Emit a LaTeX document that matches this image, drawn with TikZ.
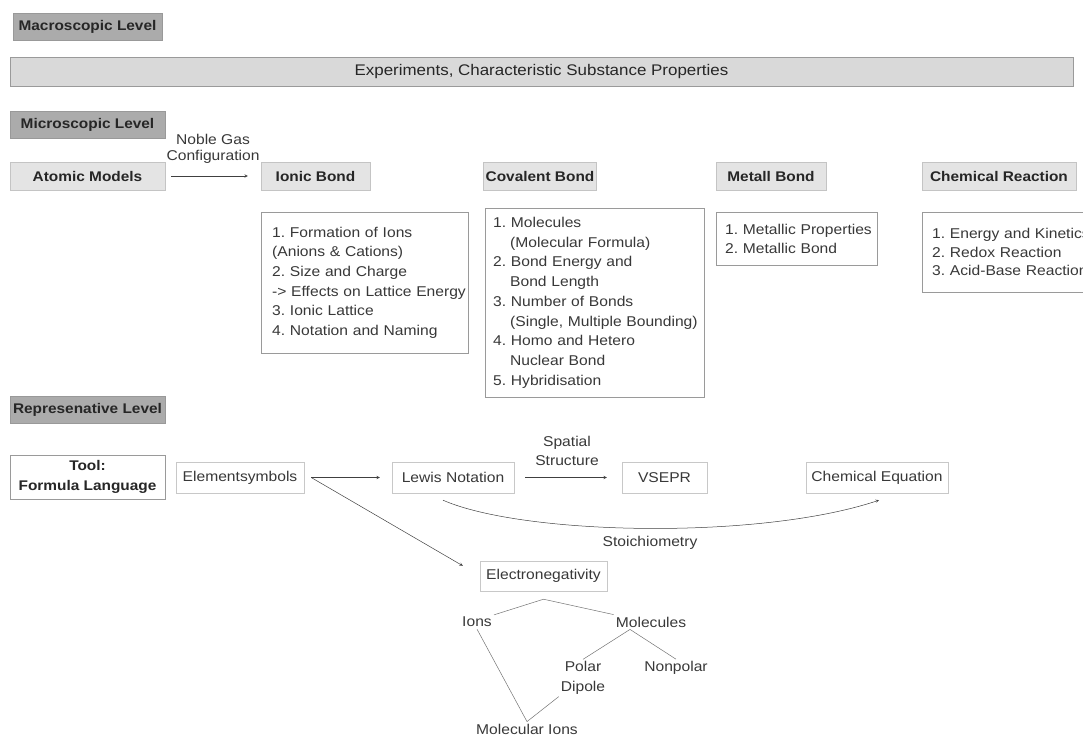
\documentclass[tikz,border=0pt]{standalone}
\usepackage{fontspec}
\setmainfont[FakeStretch=1.1]{Liberation Sans}
\frenchspacing

\definecolor{levelfill}{HTML}{ABABAB}
\definecolor{levelline}{HTML}{999999}
\definecolor{topicfill}{HTML}{E4E4E4}
\definecolor{topicline}{HTML}{C4C4C4}
\definecolor{listline}{HTML}{9A9A9A}
\definecolor{repline}{HTML}{C8C8C8}
\definecolor{textgray}{HTML}{383838}

\begin{document}
\begin{tikzpicture}[x=1pt, y=-1pt]
		\tikzset{
			every node/.style={
				text=textgray,
				align=center,
				inner sep=2pt,
				font=\fontsize{14.2}{19.7}\selectfont
			},
			level/.style={
				rectangle,
				draw=levelline,
				fill=levelfill,
				text=black!85,
				minimum width=155pt,
				minimum height=27pt,
				font=\fontsize{14}{19.7}\selectfont\bfseries
			},
			topic/.style={
				rectangle,
				draw=topicline,
				fill=topicfill,
				text=black!85,
				minimum height=28pt,
				font=\fontsize{14}{19.7}\selectfont\bfseries
			},
			list/.style={
				rectangle,
				draw=listline,
				fill=white,
				align=left,
				anchor=north west,
				inner ysep=0pt
			},
			rep/.style={
				rectangle,
				draw=repline,
				fill=white,
				minimum height=31pt
			},
			line/.style={
				->,
				>=stealth,
				draw=black!75,
				line width=0.5pt
			},
			branch/.style={
				draw=black!55,
				line width=0.5pt
			}
		}

		\path[use as bounding box, clip] (0, 0) rectangle (1083, 736);

		% macroscopic level
		\node[level, minimum width=149pt] (macro) at (87.5, 26.5)
			{Macroscopic Level};
		\node[topic, draw=listline, fill=topicfill!95!black, minimum width=1063pt,
			minimum height=29pt, font=\fontsize{15.4}{19.7}\selectfont] (exper) at (541.5, 71.5)
			{Experiments, Characteristic Substance Properties};

		% microscopic level
		\node[level] (micro) at (87.5, 124.5)
			{Microscopic Level};
		\node[topic, minimum width=155pt] (atomic) at (87.5, 176)
			{Atomic Models};
		\node[topic, minimum width=109pt] (ionic) at (315.5, 176)
			{Ionic Bond};
		\node[topic, minimum width=112pt] (covalent) at (540, 176)
			{Covalent Bond};
		\node[topic, minimum width=110pt] (metall) at (771, 176)
			{Metall Bond};
		\node[topic, minimum width=154pt] (reaction) at (999, 176)
			{Chemical Reaction};

		\node[font=\fontsize{14.2}{16}\selectfont] (noble) at (213, 149)
			{Noble Gas\\Configuration};

		\node[list, inner xsep=11pt, text width=185pt, minimum height=141pt] (ioniclist) at (261, 212)
			{1. Formation of Ions\\(Anions \& Cations)\\2. Size and Charge\\\mbox{-> Effects on Lattice Energy}\\3. Ionic Lattice\\4. Notation and Naming};
		\node[list, inner xsep=8pt, text width=203pt, minimum height=189pt] (covlist) at (485, 208)
			{1. Molecules\\\hspace*{17pt}(Molecular Formula)\\2. Bond Energy and\\\hspace*{17pt}Bond Length\\3. Number of Bonds\\\mbox{\hspace*{17pt}(Single, Multiple Bounding)}\\4. Homo and Hetero\\\hspace*{17pt}Nuclear Bond\\5. Hybridisation};
		\node[list, inner xsep=9pt, text width=143pt, minimum height=53pt,
			font=\fontsize{14.2}{19}\selectfont] (metlist) at (716, 212)
			{\mbox{1. Metallic Properties}\\2. Metallic Bond};
		\node[list, inner xsep=10pt, text width=180pt, minimum height=80pt,
			font=\fontsize{14.2}{18.6}\selectfont] (reactlist) at (922, 212)
			{1. Energy and Kinetics\\2. Redox Reaction\\3. Acid-Base Reaction};

		% representative level
		\node[level] (represent) at (87.5, 409.5)
			{Represenative Level};
		\node[rep, draw=listline, minimum width=155pt, minimum height=44pt,
			text=black!85, font=\fontsize{14}{20}\selectfont\bfseries] (tool) at (87.5, 477)
			{Tool:\\Formula Language};
		\node[rep, minimum width=128pt] (elem) at (240, 477.5)
			{Elementsymbols};
		\node[rep, minimum width=122pt] (lewis) at (453, 477.5)
			{Lewis Notation};
		\node[rep, minimum width=85pt] (vsepr) at (664.5, 477.5)
			{VSEPR};
		\node[rep, minimum width=142pt] (chemeq) at (877, 477.5)
			{Chemical Equation};
		\node[rep, minimum width=127pt, minimum height=30pt] (eneg) at (543.5, 576)
			{Electronegativity};

		\node (spatial) at (567, 451)
			{Spatial\\Structure};
		\node (stoich) at (650, 543)
			{Stoichiometry};

		\node (ions) at (477, 622)
			{Ions};
		\node (mol) at (651, 622)
			{Molecules};
		\node (polar) at (583, 678)
			{Polar\\Dipole};
		\node (nonpolar) at (676, 668)
			{Nonpolar};
		\node (molions) at (527, 729)
			{Molecular Ions};

		\draw[line, shorten <=6pt, shorten >=13pt] (atomic) -- (ionic);

		\draw[line, shorten <=7pt, shorten >=12pt] (elem) -- (lewis);
		\draw[line] ([xshift=7pt]elem.east) -- ([xshift=-17pt, yshift=-5pt]eneg.north west);
		\draw[line, shorten <=11pt, shorten >=15pt] (lewis) -- (vsepr);
		\draw[line] ([xshift=-10pt, yshift=-7pt]lewis.south)
			.. controls +(80, 35) and +(-120, 40) .. ([xshift=2pt, yshift=-7pt]chemeq.south);

		\draw[branch] (ions.north east) -- ([yshift=-8pt]eneg.south) -- (mol.north west);
		\draw[branch] (polar.north) -- ([xshift=-21pt]mol.south) -- (nonpolar.north);
		\draw[branch] (ions.south) -- (molions.north) -- (polar.south west);

	\end{tikzpicture}
\end{document}
